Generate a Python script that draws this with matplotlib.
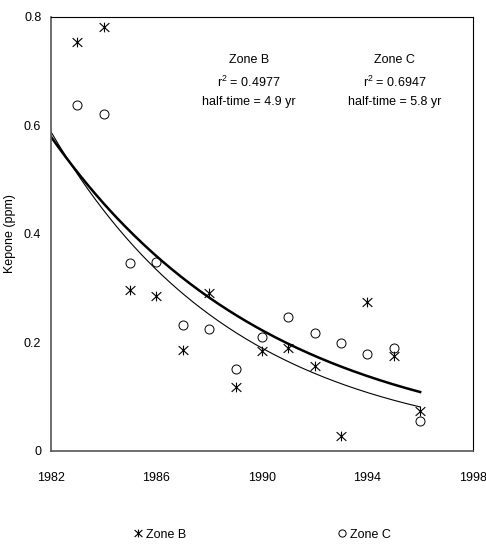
import matplotlib
matplotlib.use("Agg")
import matplotlib.pyplot as plt
import numpy as np
from matplotlib.path import Path

plt.rcParams['font.family'] = ['Liberation Sans', 'DejaVu Sans']
plt.rcParams['mathtext.default'] = 'regular'

# measured kepone concentrations (ppm)
years = [1983, 1984, 1985, 1986, 1987, 1988, 1989, 1990, 1991, 1992, 1993, 1994, 1995, 1996]
zone_b = [0.754, 0.781, 0.296, 0.286, 0.187, 0.292, 0.117, 0.185, 0.190, 0.157, 0.028, 0.275, 0.175, 0.074]
zone_c = [0.638, 0.621, 0.346, 0.349, 0.232, 0.224, 0.151, 0.210, 0.246, 0.218, 0.199, 0.178, 0.189, 0.055]

# exponential fits: value at 1982 and half-time (yr)
fit_start, fit_end = 1982, 1996
fit_b = (0.588, 4.9)
fit_c = (0.579, 5.8)

labels_b = ['Zone B', 'r$^2$ = 0.4977', 'half-time = 4.9 yr']
labels_c = ['Zone C', 'r$^2$ = 0.6947', 'half-time = 5.8 yr']

xticks = [1982, 1986, 1990, 1994, 1998]
yticks = [0, 0.2, 0.4, 0.6, 0.8]
ytick_labels = ['0', '0.2', '0.4', '0.6', '0.8']

# excel-style star marker: x with a vertical bar
star = Path([(-1, -0.9), (1, 0.9), (-1, 0.9), (1, -0.9), (0, -1), (0, 1)],
            [Path.MOVETO, Path.LINETO, Path.MOVETO, Path.LINETO, Path.MOVETO, Path.LINETO])

fs = 9

fig = plt.figure(figsize=(4.86, 5.44), dpi=100)
ax = fig.add_axes([0.105, 0.171, 0.868, 0.798])

t = np.linspace(fit_start, fit_end, 200)
ax.plot(t, fit_b[0] * 0.5 ** ((t - fit_start) / fit_b[1]), color='black', lw=0.8)
ax.plot(t, fit_c[0] * 0.5 ** ((t - fit_start) / fit_c[1]), color='black', lw=1.8)

ax.plot(years, zone_b, ls='none', marker=star, ms=7, mew=0.8, mec='black',
        color='black', label='Zone B')
ax.plot(years, zone_c, ls='none', marker='o', ms=6.5, mew=0.7, mfc='none',
        mec='black', label='Zone C')

for xf, lines in [(0.469, labels_b), (0.815, labels_c)]:
    for yf, s in zip([0.901, 0.848, 0.804], lines):
        ax.text(xf, yf, s, transform=ax.transAxes, ha='center', va='center', fontsize=fs)

ax.set_xlim(1982, 1998)
ax.set_ylim(0, 0.8)
ax.set_xticks(xticks)
ax.set_yticks(yticks)
ax.set_yticklabels(ytick_labels)
ax.tick_params(length=0, labelsize=fs)
ax.tick_params(axis='y', pad=7)
ax.tick_params(axis='x', pad=15)
ax.set_ylabel('Kepone (ppm)', fontsize=fs, labelpad=6)
for side in ['left', 'bottom']:
    ax.spines[side].set_color('#555555')
    ax.spines[side].set_linewidth(1.2)
for side in ['top', 'right']:
    ax.spines[side].set_linewidth(0.8)

fig.legend(loc='center', bbox_to_anchor=(0.54, 0.017), ncol=2, frameon=False,
           fontsize=fs, handlelength=0.6, handletextpad=0.3, columnspacing=12.2,
           markerscale=0.8)

fig.savefig('out.png', dpi=100)
